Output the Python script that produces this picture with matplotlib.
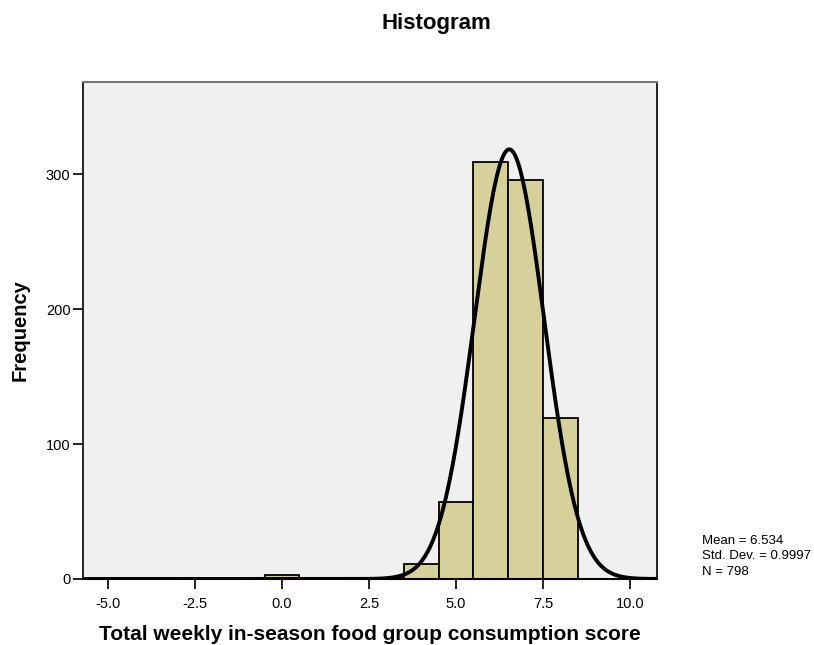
import numpy as np
import matplotlib
matplotlib.use("Agg")
import matplotlib.pyplot as plt

plt.rcParams['font.family'] = ['Liberation Sans', 'DejaVu Sans']

# Histogram bins (width 1, centred on integer scores)
bin_centers = [0, 1, 2, 3, 4, 5, 6, 7, 8]
counts = [3, 1, 1, 1, 11, 57, 309, 296, 119]
mean = 6.534
std_dev = 0.9997
n_obs = 798
bin_width = 1.0

x_ticks = [-5.0, -2.5, 0.0, 2.5, 5.0, 7.5, 10.0]
y_ticks = [0, 100, 200, 300]

fig = plt.figure(figsize=(8.14, 6.45), dpi=100)
ax = fig.add_axes([83 / 814, 1 - 579 / 645, (657 - 83) / 814, (579 - 82) / 645])
ax.set_facecolor('#F0F0F0')

ax.bar(bin_centers, counts, width=bin_width, color='#D6D09A',
       edgecolor='black', linewidth=1.3, zorder=2)

xmin, xmax = -5.72, 10.78
xs = np.linspace(xmin, xmax, 800)
pdf = n_obs * bin_width / (std_dev * np.sqrt(2 * np.pi)) * np.exp(-0.5 * ((xs - mean) / std_dev) ** 2)
ax.plot(xs, pdf, color='black', linewidth=2.8, zorder=3, solid_capstyle='butt')

ax.set_xlim(xmin, xmax)
ax.set_ylim(0, 368.4)
ax.set_xticks(x_ticks)
ax.set_xticklabels([f"{v:.1f}" for v in x_ticks])
ax.set_yticks(y_ticks)
ax.tick_params(axis='both', direction='out', length=7, width=1.2, labelsize=10.5)
ax.tick_params(axis='x', pad=6)
ax.tick_params(axis='y', pad=2)

for side in ['left', 'bottom', 'right']:
    ax.spines[side].set_color('black')
    ax.spines[side].set_linewidth(1.2)
ax.spines['top'].set_color('#777777')
ax.spines['top'].set_linewidth(1.5)
ax.spines['bottom'].set_linewidth(1.5)

ax.set_xlabel('Total weekly in-season food group consumption score',
              fontsize=15, fontweight='bold', va='center')
ax.xaxis.set_label_coords(0.5, (579 - 634) / 497)
ax.set_ylabel('Frequency', fontsize=14.5, fontweight='bold', va='center')
ax.yaxis.set_label_coords((20 - 83) / 574, 0.5)

fig.text(436 / 814, 1 - 23 / 645, 'Histogram', ha='center', va='center',
         fontsize=16, fontweight='bold')

fig.text(702 / 814, 1 - 541 / 645, f'Mean = {mean}', ha='left', va='center', fontsize=9.5)
fig.text(702 / 814, 1 - 556 / 645, f'Std. Dev. = {std_dev}', ha='left', va='center', fontsize=9.5)
fig.text(702 / 814, 1 - 572 / 645, f'N = {n_obs}', ha='left', va='center', fontsize=9.5)

fig.savefig('out.png', dpi=100, facecolor='white')
